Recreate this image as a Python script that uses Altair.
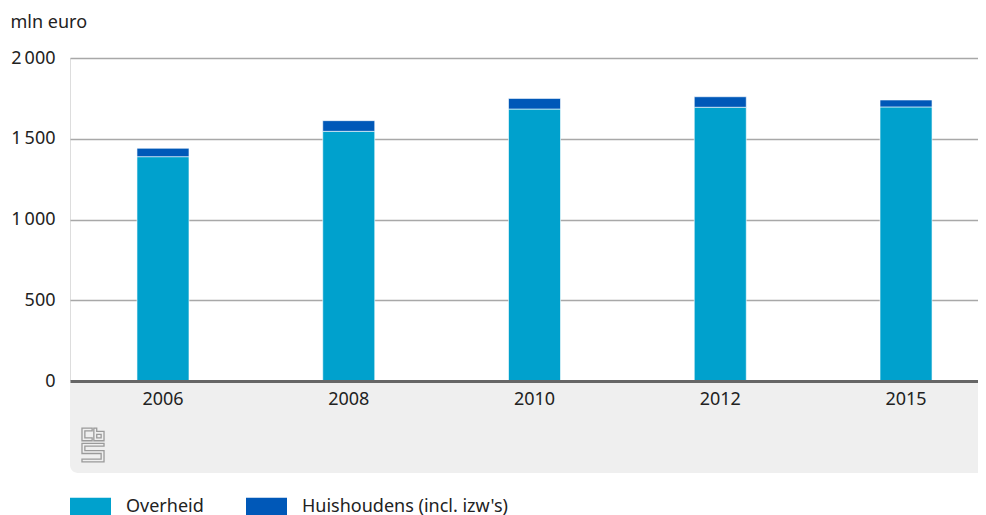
import altair as alt
import pandas as pd

years = ["2006", "2008", "2010", "2012", "2015"]
overheid = [1389, 1546, 1684, 1695, 1697]
huishoudens = [52, 66, 66, 65, 43]
series = ["Overheid", "Huishoudens (incl. izw's)"]
colors = ["#00a1cd", "#0058b8"]
y_ticks = [0, 500, 1000, 1500, 2000]

df = pd.DataFrame({
    "jaar": years * 2,
    "reeks": [series[0]] * len(years) + [series[1]] * len(years),
    "waarde": overheid + huishoudens,
    "volgorde": [0] * len(years) + [1] * len(years),
})

FONT = "Noto Sans"
W, H = 908, 323

bg = alt.Chart(pd.DataFrame({"a": [0]})).mark_rect(
    color="#efefef", cornerRadiusBottomLeft=8
).encode(x=alt.value(0), x2=alt.value(W + 20), y=alt.value(H), y2=alt.value(H + 92))

logo_path = ("M-0.05,-1 H-0.65 V-0.25 H-0.05 V-0.42 H-0.48 V-0.83 H-0.05 Z "
             "M0.05,-1 H0.22 V-0.8 H0.65 V-0.25 H0.05 Z M0.22,-0.63 H0.48 V-0.42 H0.22 Z "
             "M-0.65,-0.1 H0.65 V0.07 H-0.48 V0.33 H0.65 V1 H-0.65 V0.83 H0.48 V0.5 H-0.65 Z")
logo = alt.Chart(pd.DataFrame({"a": [0]})).mark_point(
    shape=logo_path, filled=False, stroke="#9a9a9a", strokeWidth=1.3, size=1150, opacity=1
).encode(x=alt.value(23), y=alt.value(387))

bars = alt.Chart(df).mark_bar(stroke="white", strokeWidth=1, strokeOpacity=0.6).encode(
    x=alt.X("jaar:N", sort=years,
            scale=alt.Scale(paddingInner=0.72, paddingOuter=0.304, align=0.593),
            axis=alt.Axis(title=None, labelAngle=0, ticks=False, domainColor="#666666",
                          domainWidth=3, labelPadding=9, labelFontSize=18,
                          labelColor="#222222", grid=False, zindex=1, labelFont=FONT)),
    y=alt.Y("waarde:Q", stack="zero",
            scale=alt.Scale(domain=[0, 2000], nice=False),
            axis=alt.Axis(values=y_ticks, title="mln euro", titleAngle=0, titleX=-60,
                          titleY=-31, titleAlign="left", titleBaseline="alphabetic",
                          titleFontSize=18, titleFontWeight="normal", titleColor="#222222",
                          titleFont=FONT, labelFont=FONT, labelFontSize=18,
                          labelColor="#222222", labelPadding=15, ticks=False, domain=False,
                          gridColor="#a8a8a8", gridWidth=1.5,
                          labelExpr="replace(format(datum.value, ','), ',', '\u2009')")),
    color=alt.Color("reeks:N", scale=alt.Scale(domain=series, range=colors),
                    legend=alt.Legend(title=None, orient="none", legendX=0, legendY=428,
                                      direction="horizontal",
                                      symbolType="M-1,-0.44L1,-0.44L1,0.44L-1,0.44Z",
                                      symbolSize=1681, symbolStrokeWidth=0, symbolOpacity=1,
                                      labelFontSize=18, labelColor="#222222", labelFont=FONT,
                                      labelOffset=15, columnPadding=42, padding=0,
                                      labelLimit=400)),
    order=alt.Order("volgorde:Q"),
)

chart = alt.layer(bg, logo, bars).properties(
    width=W, height=H,
    autosize=alt.AutoSizeParams(type="none"),
    padding={"left": 62, "top": 50, "right": 0, "bottom": 134},
).configure_view(stroke=None).configure(font=FONT)

chart.save("out.html", embed_options={"renderer": "svg", "actions": False})
